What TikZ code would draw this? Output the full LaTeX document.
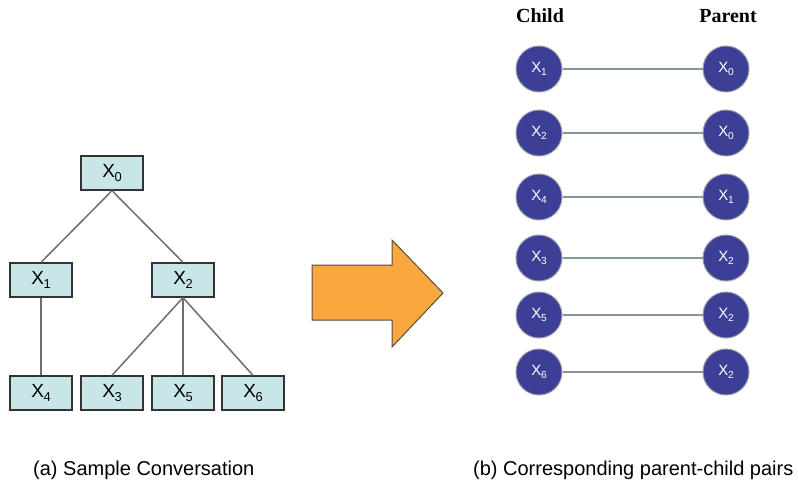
\documentclass[tikz,border=0pt]{standalone}
\usepackage{fontspec}
\setmainfont{Liberation Sans}
\newfontfamily\headfont{Liberation Serif}
\definecolor{boxfill}{HTML}{C8E5E8}
\definecolor{boxline}{HTML}{333333}
\definecolor{treeline}{HTML}{6E6E6E}
\definecolor{circfill}{HTML}{3D3F97}
\definecolor{circline}{HTML}{9A9AA8}
\definecolor{pairline}{HTML}{879696}
\definecolor{arrowfill}{HTML}{F9A83E}
\definecolor{arrowline}{HTML}{5A4A3A}
\tikzset{
  treebox/.style={draw=boxline, line width=1.3pt, fill=boxfill, minimum width=62pt, minimum height=34pt, inner sep=0pt, font=\fontsize{19}{22}\selectfont},
  treeedge/.style={draw=treeline, line width=1.5pt},
  pairnode/.style={circle, draw=circline, line width=1pt, fill=circfill, minimum size=46pt, inner sep=0pt, text=white, font=\fontsize{15}{17}\selectfont},
  pairedge/.style={draw=pairline, line width=1.6pt},
  headlabel/.style={font=\headfont\bfseries\fontsize{20}{23}\selectfont, inner sep=0pt},
  caption/.style={font=\fontsize{20}{24}\selectfont, inner sep=0pt, anchor=west}
}
\newcommand{\xs}[1]{X\kern-0.02em\raisebox{-0.4ex}{\scalebox{0.68}{#1}}}
\begin{document}
\begin{tikzpicture}[x=1pt,y=-1pt]
\useasboundingbox (0,0) rectangle (798,488);
% tree
\node[treebox] (t0) at (112,173) {\xs{0}};
\node[treebox] (t1) at (41,280) {\xs{1}};
\node[treebox] (t2) at (183,280) {\xs{2}};
\node[treebox] (t4) at (41,393) {\xs{4}};
\node[treebox] (t3) at (112,393) {\xs{3}};
\node[treebox] (t5) at (183,393) {\xs{5}};
\node[treebox] (t6) at (253,393) {\xs{6}};
\draw[treeedge] (t0.south) -- (t1.north);
\draw[treeedge] (t0.south) -- (t2.north);
\draw[treeedge] (t1.south) -- (t4.north);
\draw[treeedge] (t2.south) -- (t3.north);
\draw[treeedge] (t2.south) -- (t5.north);
\draw[treeedge] (t2.south) -- (t6.north);
% arrow
\draw[fill=arrowfill, draw=arrowline, line width=1pt, line join=miter]
  (312,265) -- (392,265) -- (392,240) -- (443,293) -- (392,347) -- (392,320) -- (312,320) -- cycle;
% headers
\node[headlabel] (hc) at (540,16) {Child};
\node[headlabel] (hp) at (728,16) {Parent};
% pairs
\foreach \i/\c/\p/\y in {1/1/0/69, 2/2/0/133, 3/4/1/197, 4/3/2/258, 5/5/2/315, 6/6/2/372}{
  \node[pairnode] (c\i) at (539,\y) {\xs{\c}};
  \node[pairnode] (p\i) at (726,\y) {\xs{\p}};
  \draw[pairedge] (c\i) -- (p\i);
}
% captions
\node[caption] (capa) at (33,470) {(a) Sample Conversation};
\node[caption] (capb) at (473,470) {(b) Corresponding parent-child pairs};
\end{tikzpicture}
\end{document}
